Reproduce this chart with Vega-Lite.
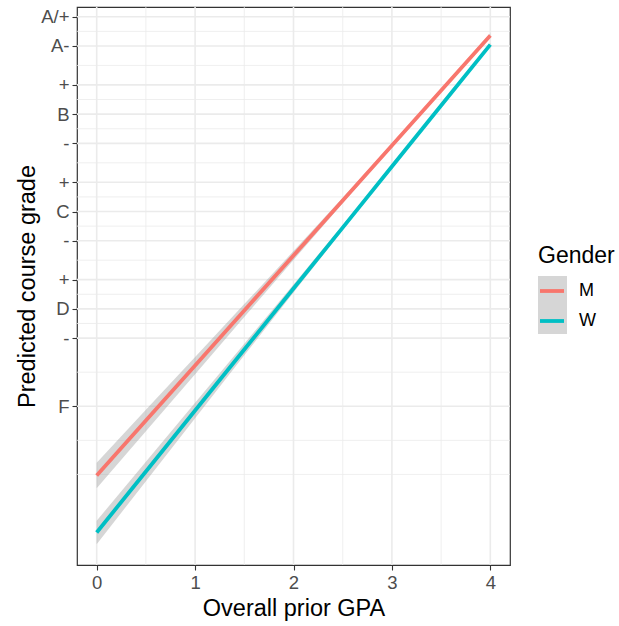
{
  "$schema": "https://vega.github.io/schema/vega-lite/v6.json",
  "autosize": "none",
  "padding": {"left": 77, "top": 7, "right": 109, "bottom": 61},
  "width": 433,
  "height": 558,
  "background": "white",
  "config": {
    "font": "Liberation Sans",
    "view": {"stroke": "#333333", "strokeWidth": 1.2},
    "axis": {
      "domain": false,
      "grid": false,
      "tickColor": "#333333",
      "tickSize": 5,
      "tickWidth": 1.1,
      "labelColor": "#4d4d4d",
      "labelFontSize": 18.5,
      "labelFont": "Liberation Sans",
      "titleFont": "Liberation Sans",
      "titleFontSize": 23.5,
      "titleFontWeight": "normal",
      "titleColor": "#000000"
    }
  },
  "datasets": {
    "hgrid": [
      {"y": 4.0, "kind": "major"}, {"y": 3.7, "kind": "major"}, {"y": 3.3, "kind": "major"},
      {"y": 3.0, "kind": "major"}, {"y": 2.7, "kind": "major"}, {"y": 2.3, "kind": "major"},
      {"y": 2.0, "kind": "major"}, {"y": 1.7, "kind": "major"}, {"y": 1.3, "kind": "major"},
      {"y": 1.0, "kind": "major"}, {"y": 0.7, "kind": "major"}, {"y": 0.0, "kind": "major"},
      {"y": 3.85, "kind": "minor"}, {"y": 3.5, "kind": "minor"}, {"y": 3.15, "kind": "minor"},
      {"y": 2.85, "kind": "minor"}, {"y": 2.5, "kind": "minor"}, {"y": 2.15, "kind": "minor"},
      {"y": 1.85, "kind": "minor"}, {"y": 1.5, "kind": "minor"}, {"y": 1.15, "kind": "minor"},
      {"y": 0.85, "kind": "minor"}, {"y": 0.35, "kind": "minor"}, {"y": -0.35, "kind": "minor"},
      {"y": -0.7, "kind": "minor"}
    ],
    "vgrid": [
      {"x": 0, "kind": "major"}, {"x": 1, "kind": "major"}, {"x": 2, "kind": "major"},
      {"x": 3, "kind": "major"}, {"x": 4, "kind": "major"},
      {"x": 0.5, "kind": "minor"}, {"x": 1.5, "kind": "minor"}, {"x": 2.5, "kind": "minor"},
      {"x": 3.5, "kind": "minor"}
    ],
    "fits": [
      {"gpa": 0.0, "gender": "M", "fit": -0.711, "lo": -0.841, "hi": -0.581},
      {"gpa": 0.5, "gender": "M", "fit": -0.146, "lo": -0.256, "hi": -0.036},
      {"gpa": 1.0, "gender": "M", "fit": 0.418, "lo": 0.330, "hi": 0.506},
      {"gpa": 1.5, "gender": "M", "fit": 0.983, "lo": 0.917, "hi": 1.049},
      {"gpa": 2.0, "gender": "M", "fit": 1.548, "lo": 1.502, "hi": 1.594},
      {"gpa": 2.5, "gender": "M", "fit": 2.113, "lo": 2.085, "hi": 2.141},
      {"gpa": 3.0, "gender": "M", "fit": 2.677, "lo": 2.661, "hi": 2.693},
      {"gpa": 3.5, "gender": "M", "fit": 3.242, "lo": 3.228, "hi": 3.256},
      {"gpa": 4.0, "gender": "M", "fit": 3.807, "lo": 3.783, "hi": 3.831},
      {"gpa": 0.0, "gender": "W", "fit": -1.296, "lo": -1.416, "hi": -1.176},
      {"gpa": 0.5, "gender": "W", "fit": -0.670, "lo": -0.770, "hi": -0.570},
      {"gpa": 1.0, "gender": "W", "fit": -0.044, "lo": -0.124, "hi": 0.036},
      {"gpa": 1.5, "gender": "W", "fit": 0.583, "lo": 0.523, "hi": 0.643},
      {"gpa": 2.0, "gender": "W", "fit": 1.209, "lo": 1.167, "hi": 1.251},
      {"gpa": 2.5, "gender": "W", "fit": 1.835, "lo": 1.809, "hi": 1.861},
      {"gpa": 3.0, "gender": "W", "fit": 2.462, "lo": 2.448, "hi": 2.476},
      {"gpa": 3.5, "gender": "W", "fit": 3.088, "lo": 3.076, "hi": 3.100},
      {"gpa": 4.0, "gender": "W", "fit": 3.714, "lo": 3.694, "hi": 3.734}
    ]
  },
  "layer": [
    {
      "data": {"name": "hgrid"},
      "mark": {"type": "rule", "color": "#ebebeb"},
      "encoding": {
        "y": {
          "field": "y", "type": "quantitative",
          "scale": {"domain": [-1.63, 4.10], "nice": false, "zero": false},
          "axis": {
            "values": [4.0, 3.7, 3.3, 3.0, 2.7, 2.3, 2.0, 1.7, 1.3, 1.0, 0.7, 0.0],
            "labelExpr": "datum.value > 3.95 ? 'A/+' : datum.value > 3.6 ? 'A-' : datum.value > 3.2 ? '+' : datum.value > 2.9 ? 'B' : datum.value > 2.6 ? '-' : datum.value > 2.2 ? '+' : datum.value > 1.9 ? 'C' : datum.value > 1.6 ? '-' : datum.value > 1.2 ? '+' : datum.value > 0.9 ? 'D' : datum.value > 0.6 ? '-' : 'F'",
            "title": "Predicted course grade",
            "labelPadding": 3,
            "titlePadding": 1
          }
        },
        "strokeWidth": {
          "field": "kind", "type": "ordinal",
          "scale": {"domain": ["major", "minor"], "range": [1.6, 0.8]},
          "legend": null
        }
      }
    },
    {
      "data": {"name": "vgrid"},
      "mark": {"type": "rule", "color": "#ebebeb"},
      "encoding": {
        "x": {
          "field": "x", "type": "quantitative",
          "scale": {"domain": [-0.2, 4.2], "nice": false, "zero": false},
          "axis": {
            "values": [0, 1, 2, 3, 4],
            "format": "d",
            "title": "Overall prior GPA",
            "labelPadding": 3,
            "titlePadding": 5
          }
        },
        "strokeWidth": {
          "field": "kind", "type": "ordinal",
          "scale": {"domain": ["major", "minor"], "range": [1.6, 0.8]},
          "legend": null
        }
      }
    },
    {
      "data": {"name": "fits"},
      "mark": {"type": "area", "fillOpacity": 0.4},
      "encoding": {
        "x": {"field": "gpa", "type": "quantitative"},
        "y": {"field": "lo", "type": "quantitative"},
        "y2": {"field": "hi"},
        "fill": {
          "field": "gender", "type": "nominal",
          "scale": {"range": ["#999999", "#999999"]},
          "legend": {
            "orient": "none",
            "legendX": 461,
            "legendY": 269,
            "title": null,
            "symbolType": "square",
            "symbolSize": 841,
            "symbolOpacity": 0.4,
            "symbolStrokeWidth": 0,
            "rowPadding": 0,
            "labelExpr": "''",
            "labelFontSize": 1
          }
        }
      }
    },
    {
      "data": {"name": "fits"},
      "mark": {"type": "line", "strokeWidth": 3.8},
      "encoding": {
        "x": {"field": "gpa", "type": "quantitative"},
        "y": {"field": "fit", "type": "quantitative"},
        "stroke": {
          "field": "gender", "type": "nominal",
          "scale": {"domain": ["M", "W"], "range": ["#F8766D", "#00BFC4"]},
          "legend": {
            "orient": "none",
            "legendX": 461,
            "legendY": 238,
            "title": "Gender",
            "titleFontSize": 23,
            "titleFontWeight": "normal",
            "titleColor": "#000000",
            "titleFont": "Liberation Sans",
            "titlePadding": 9,
            "symbolType": "stroke",
            "symbolSize": 576,
            "symbolStrokeWidth": 3.8,
            "labelFontSize": 18,
            "labelColor": "#000000",
            "labelFont": "Liberation Sans",
            "labelOffset": 13,
            "rowPadding": 7
          }
        }
      }
    }
  ]
}
